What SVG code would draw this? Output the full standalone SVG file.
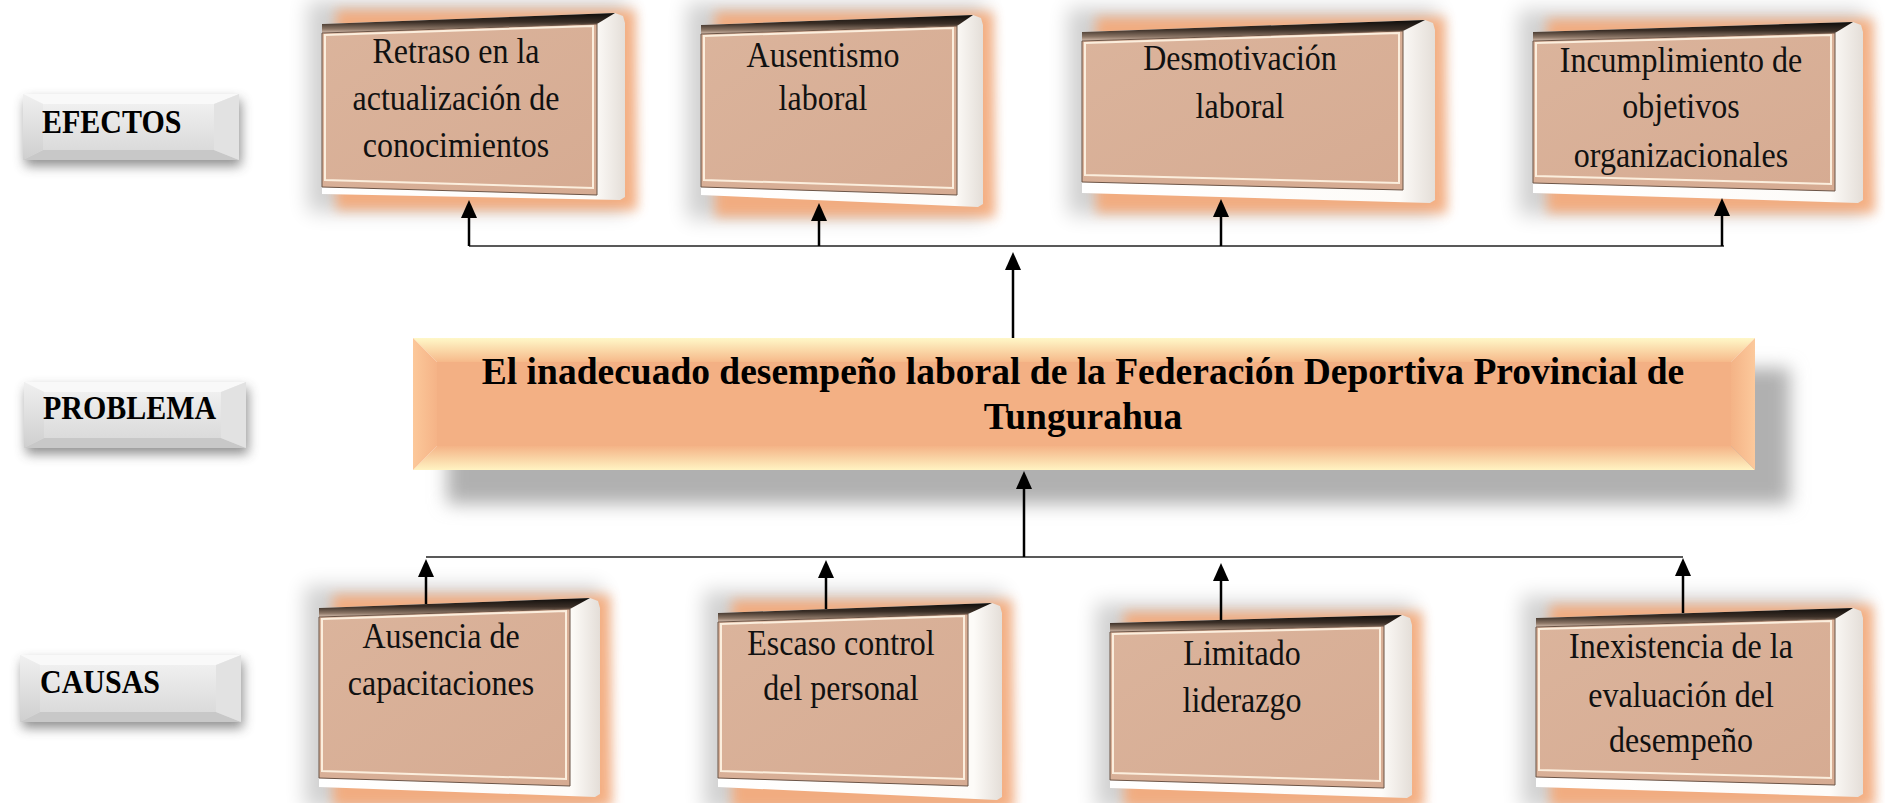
<svg xmlns="http://www.w3.org/2000/svg" width="1885" height="803" viewBox="0 0 1885 803">
<defs>
  <linearGradient id="topGrad" x1="0" y1="0" x2="0" y2="1">
    <stop offset="0" stop-color="#0e0c0a"/>
    <stop offset="0.45" stop-color="#3a2e26"/>
    <stop offset="0.8" stop-color="#8c7666"/>
    <stop offset="1" stop-color="#d8c0b0"/>
  </linearGradient>
  <linearGradient id="whiteGrad" x1="0" y1="0" x2="1" y2="0">
    <stop offset="0" stop-color="#ffffff"/>
    <stop offset="0.9" stop-color="#fdfbf8"/>
    <stop offset="1" stop-color="#e4ded8"/>
  </linearGradient>
  <linearGradient id="faceGrad" x1="0" y1="0" x2="1" y2="1">
    <stop offset="0" stop-color="#dbb49c"/>
    <stop offset="1" stop-color="#d6ab92"/>
  </linearGradient>
  <linearGradient id="pTop" x1="0" y1="0" x2="0" y2="1">
    <stop offset="0" stop-color="#fff8c8"/>
    <stop offset="1" stop-color="#f6b98a"/>
  </linearGradient>
  <linearGradient id="pBot" x1="0" y1="0" x2="0" y2="1">
    <stop offset="0" stop-color="#f4b386"/>
    <stop offset="1" stop-color="#fff3c2"/>
  </linearGradient>
  <linearGradient id="pLeft" x1="0" y1="0" x2="1" y2="0">
    <stop offset="0" stop-color="#fcc89a"/>
    <stop offset="1" stop-color="#f5b387"/>
  </linearGradient>
  <linearGradient id="pRight" x1="0" y1="0" x2="1" y2="0">
    <stop offset="0" stop-color="#f4b386"/>
    <stop offset="1" stop-color="#fcc99c"/>
  </linearGradient>
  <linearGradient id="gFace" x1="0" y1="0" x2="0" y2="1">
    <stop offset="0" stop-color="#f4f4f4"/>
    <stop offset="1" stop-color="#d6d6d6"/>
  </linearGradient>
  <linearGradient id="gLeft" x1="0" y1="0" x2="0" y2="1">
    <stop offset="0" stop-color="#f0f0f0"/>
    <stop offset="1" stop-color="#cfcfcf"/>
  </linearGradient>
  <filter id="blurGlow" x="-20%" y="-20%" width="140%" height="140%">
    <feGaussianBlur stdDeviation="6"/>
  </filter>
  <filter id="blurHalo" x="-20%" y="-30%" width="140%" height="160%">
    <feGaussianBlur stdDeviation="10"/>
  </filter>
  <filter id="blurShadow" x="-10%" y="-40%" width="120%" height="180%">
    <feGaussianBlur stdDeviation="9"/>
  </filter>
  <filter id="blurLab" x="-30%" y="-60%" width="160%" height="220%">
    <feGaussianBlur stdDeviation="6"/>
  </filter>
  <marker id="arr" markerUnits="userSpaceOnUse" markerWidth="18" markerHeight="16" refX="9" refY="8" orient="auto">
    <path d="M0,0 L18,8 L0,16 Z" fill="#000"/>
  </marker>
</defs>
<style>
  .glow { fill: #f7a672; opacity: 0.85; filter: url(#blurGlow); }
  .halo { fill: #000; opacity: 0.18; filter: url(#blurHalo); }
  .sil { fill: url(#whiteGrad); }
  .top { fill: url(#topGrad); }
  .face { fill: url(#faceGrad); stroke: #6b5446; stroke-width: 1; }
  .inner { fill: none; stroke: #fbeedd; stroke-width: 2; }
  .bt { font-family: "Liberation Serif", "Times New Roman", serif; font-size: 32px; fill: #111; text-anchor: middle; transform-box: fill-box; transform-origin: 50% 78%; transform: scaleY(1.15); }
  .lab { font-family: "Liberation Serif", "Times New Roman", serif; font-size: 30px; font-weight: bold; fill: #000; transform-box: fill-box; transform-origin: 50% 78%; transform: scaleY(1.15); }
  .pt { font-family: "Liberation Serif", "Times New Roman", serif; font-size: 37.5px; font-weight: bold; fill: #000; text-anchor: middle; }
  .labShadow { fill: #444; opacity: 0.6; filter: url(#blurLab); }
  .bus { stroke: #222; stroke-width: 1.6; fill: none; }
  .stem { stroke: #000; stroke-width: 2.5; fill: none; marker-end: url(#arr); }
</style>
<rect width="1885" height="803" fill="#ffffff"/>

<!-- Labels -->
<g id="lbl-efectos">
  <rect class="labShadow" x="25" y="100" width="216" height="66"/>
  <rect x="23" y="94" width="216" height="66" fill="url(#gFace)"/>
  <polygon points="23,94 239,94 214,104 43,104" fill="#f9f9f9"/>
  <polygon points="23,160 239,160 214,150 43,150" fill="#c8c8c8"/>
  <polygon points="23,94 43,104 43,150 23,160" fill="url(#gLeft)"/>
  <polygon points="239,94 214,104 214,150 239,160" fill="#e2e2e2"/>
  <text class="lab" x="42" y="133">EFECTOS</text>
</g>
<g id="lbl-problema">
  <rect class="labShadow" x="26" y="388" width="222" height="66"/>
  <rect x="24" y="382" width="222" height="66" fill="url(#gFace)"/>
  <polygon points="24,382 246,382 221,392 44,392" fill="#f9f9f9"/>
  <polygon points="24,448 246,448 221,438 44,438" fill="#c8c8c8"/>
  <polygon points="24,382 44,392 44,438 24,448" fill="url(#gLeft)"/>
  <polygon points="246,382 221,392 221,438 246,448" fill="#e2e2e2"/>
  <text class="lab" x="43" y="419">PROBLEMA</text>
</g>
<g id="lbl-causas">
  <rect class="labShadow" x="22" y="661" width="221" height="67"/>
  <rect x="20" y="655" width="221" height="67" fill="url(#gFace)"/>
  <polygon points="20,655 241,655 216,665 40,665" fill="#f9f9f9"/>
  <polygon points="20,722 241,722 216,712 40,712" fill="#c8c8c8"/>
  <polygon points="20,655 40,665 40,712 20,722" fill="url(#gLeft)"/>
  <polygon points="241,655 216,665 216,712 241,722" fill="#e2e2e2"/>
  <text class="lab" x="40" y="693">CAUSAS</text>
</g>

<!-- Effects -->
<g id="efecto-1">
  <rect class="halo" x="308" y="1" width="319" height="211"/>
  <polygon class="glow" points="336,10 635,10 637,210 336,210"/>
  <polygon class="sil" points="322,24 615,13 623,16 625,23 625,197 620,200 322,194"/>
  <polygon class="top" points="322,24 615,13 597,24 322,33"/>
  <polygon class="face" points="322,33 597,24 597,195 322,187"/>
  <polygon class="inner" points="325,35 593,26 593,188 325,180"/>
  <text class="bt" x="456" y="63">Retraso en la</text>
  <text class="bt" x="456" y="110">actualización de</text>
  <text class="bt" x="456" y="157">conocimientos</text>
</g>
<g id="efecto-2">
  <rect class="halo" x="687" y="3" width="298" height="216"/>
  <polygon class="glow" points="715,12 993,12 995,217 715,217"/>
  <polygon class="sil" points="701,25 973,15 981,18 983,25 983,204 978,207 701,195"/>
  <polygon class="top" points="701,25 973,15 957,26 701,34"/>
  <polygon class="face" points="701,34 957,26 957,195 701,187"/>
  <polygon class="inner" points="704,36 953,28 953,188 704,180"/>
  <text class="bt" x="823" y="67">Ausentismo</text>
  <text class="bt" x="823" y="110">laboral</text>
</g>
<g id="efecto-3">
  <rect class="halo" x="1068" y="8" width="369" height="207"/>
  <polygon class="glow" points="1096,17 1445,17 1447,213 1096,213"/>
  <polygon class="sil" points="1082,32 1425,20 1433,23 1435,30 1435,200 1430,203 1082,193"/>
  <polygon class="top" points="1082,32 1425,20 1403,31 1082,41"/>
  <polygon class="face" points="1082,41 1403,31 1403,190 1082,182"/>
  <polygon class="inner" points="1085,43 1399,33 1399,183 1085,175"/>
  <text class="bt" x="1240" y="70">Desmotivación</text>
  <text class="bt" x="1240" y="118">laboral</text>
</g>
<g id="efecto-4">
  <rect class="halo" x="1519" y="10" width="346" height="205"/>
  <polygon class="glow" points="1547,19 1873,19 1875,213 1547,213"/>
  <polygon class="sil" points="1533,32 1853,22 1861,25 1863,32 1863,200 1858,203 1533,193"/>
  <polygon class="top" points="1533,32 1853,22 1835,33 1533,41"/>
  <polygon class="face" points="1533,41 1835,33 1835,191 1533,183"/>
  <polygon class="inner" points="1536,43 1831,35 1831,184 1536,176"/>
  <text class="bt" x="1681" y="72">Incumplimiento de</text>
  <text class="bt" x="1681" y="118">objetivos</text>
  <text class="bt" x="1681" y="167">organizacionales</text>
</g>

<!-- Problem -->
<g id="problema">
  <rect x="447" y="368" width="1343" height="136" fill="#b0b0b0" filter="url(#blurShadow)"/>
  <rect x="437" y="362" width="1294" height="84" fill="#f3b084"/>
  <polygon points="413,338 1755,338 1731,362 437,362" fill="url(#pTop)"/>
  <polygon points="413,470 1755,470 1731,446 437,446" fill="url(#pBot)"/>
  <polygon points="413,338 437,362 437,446 413,470" fill="url(#pLeft)"/>
  <polygon points="1755,338 1731,362 1731,446 1755,470" fill="url(#pRight)"/>
  <text class="pt" x="1083" y="384">El inadecuado desempeño laboral de la Federación Deportiva Provincial de</text>
  <text class="pt" x="1083" y="429">Tungurahua</text>
</g>

<!-- Causes -->
<g id="causa-1">
  <rect class="halo" x="305" y="586" width="297" height="223"/>
  <polygon class="glow" points="333,595 610,595 612,807 333,807"/>
  <polygon class="sil" points="319,608 590,598 598,601 600,608 600,794 595,797 319,787"/>
  <polygon class="top" points="319,608 590,598 570,609 319,617"/>
  <polygon class="face" points="319,617 570,609 570,786 319,778"/>
  <polygon class="inner" points="322,619 566,611 566,779 322,771"/>
  <text class="bt" x="441" y="648">Ausencia de</text>
  <text class="bt" x="441" y="695">capacitaciones</text>
</g>
<g id="causa-2">
  <rect class="halo" x="704" y="591" width="300" height="221"/>
  <polygon class="glow" points="732,600 1012,600 1014,810 732,810"/>
  <polygon class="sil" points="718,613 992,603 1000,606 1002,613 1002,797 997,800 718,787"/>
  <polygon class="top" points="718,613 992,603 968,614 718,622"/>
  <polygon class="face" points="718,622 968,614 968,786 718,778"/>
  <polygon class="inner" points="721,624 964,616 964,779 721,771"/>
  <text class="bt" x="841" y="655">Escaso control</text>
  <text class="bt" x="841" y="700">del personal</text>
</g>
<g id="causa-3">
  <rect class="halo" x="1096" y="603" width="318" height="207"/>
  <polygon class="glow" points="1124,612 1422,612 1424,808 1124,808"/>
  <polygon class="sil" points="1110,623 1402,615 1410,618 1412,625 1412,795 1407,798 1110,788"/>
  <polygon class="top" points="1110,623 1402,615 1384,626 1110,632"/>
  <polygon class="face" points="1110,632 1384,626 1384,788 1110,780"/>
  <polygon class="inner" points="1113,634 1380,628 1380,781 1113,773"/>
  <text class="bt" x="1242" y="665">Limitado</text>
  <text class="bt" x="1242" y="712">liderazgo</text>
</g>
<g id="causa-4">
  <rect class="halo" x="1522" y="596" width="343" height="213"/>
  <polygon class="glow" points="1550,605 1873,605 1875,807 1550,807"/>
  <polygon class="sil" points="1536,618 1853,608 1861,611 1863,618 1863,794 1858,797 1536,787"/>
  <polygon class="top" points="1536,618 1853,608 1835,619 1536,627"/>
  <polygon class="face" points="1536,627 1835,619 1835,785 1536,777"/>
  <polygon class="inner" points="1539,629 1831,621 1831,778 1539,770"/>
  <text class="bt" x="1681" y="658">Inexistencia de la</text>
  <text class="bt" x="1681" y="707">evaluación del</text>
  <text class="bt" x="1681" y="752">desempeño</text>
</g>

<!-- Connectors -->
<g id="connectors">
  <line class="bus" x1="469" y1="246" x2="1724" y2="246"/>
  <line class="stem" x1="469" y1="246" x2="469" y2="209"/>
  <line class="stem" x1="819" y1="246" x2="819" y2="212"/>
  <line class="stem" x1="1221" y1="246" x2="1221" y2="208"/>
  <line class="stem" x1="1722" y1="246" x2="1722" y2="207"/>
  <line class="stem" x1="1013" y1="338" x2="1013" y2="261"/>
  <line class="bus" x1="426" y1="557" x2="1683" y2="557"/>
  <line class="stem" x1="1024" y1="557" x2="1024" y2="480"/>
  <line class="stem" x1="426" y1="604" x2="426" y2="568"/>
  <line class="stem" x1="826" y1="609" x2="826" y2="569"/>
  <line class="stem" x1="1221" y1="620" x2="1221" y2="572"/>
  <line class="stem" x1="1683" y1="613" x2="1683" y2="567"/>
</g>
</svg>
